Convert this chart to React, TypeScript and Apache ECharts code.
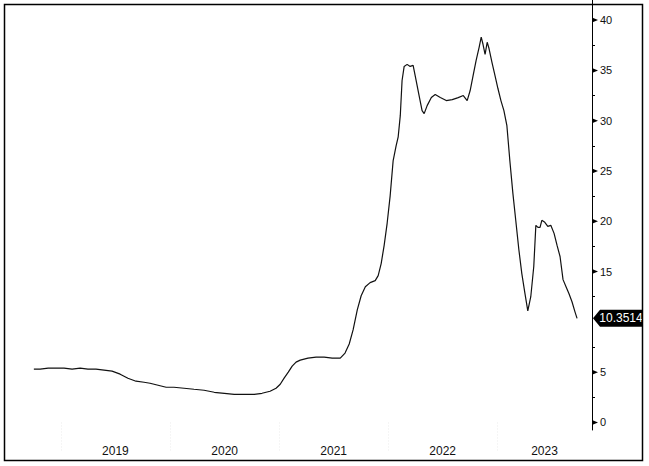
import React, { useEffect, useRef } from "react";
import * as echarts from "echarts";

const dates = [
  "2018-10-02", "2018-10-23", "2018-11-19", "2018-12-15", "2019-01-11", "2019-02-07",
  "2019-03-06", "2019-04-01", "2019-04-28", "2019-05-25", "2019-06-21", "2019-07-18",
  "2019-08-13", "2019-09-09", "2019-10-06", "2019-10-26", "2019-11-22", "2019-12-19",
  "2020-01-14", "2020-02-17", "2020-03-21", "2020-04-24", "2020-05-28", "2020-07-01",
  "2020-08-03", "2020-09-05", "2020-10-09", "2020-11-04", "2020-12-01", "2020-12-21",
  "2021-01-04", "2021-01-17", "2021-01-31", "2021-02-13", "2021-02-26", "2021-03-12",
  "2021-04-07", "2021-05-04", "2021-05-31", "2021-06-27", "2021-07-24", "2021-08-09",
  "2021-08-23", "2021-09-05", "2021-09-19", "2021-10-02", "2021-10-16", "2021-11-01",
  "2021-11-18", "2021-11-28", "2021-12-08", "2021-12-18", "2021-12-28", "2022-01-07",
  "2022-01-17", "2022-01-27", "2022-02-03", "2022-02-10", "2022-02-16", "2022-02-23",
  "2022-03-05", "2022-03-15", "2022-03-25", "2022-04-04", "2022-04-14", "2022-04-24",
  "2022-05-01", "2022-05-11", "2022-05-25", "2022-06-07", "2022-06-24", "2022-07-14",
  "2022-08-03", "2022-08-23", "2022-09-09", "2022-09-22", "2022-10-02", "2022-10-12",
  "2022-10-22", "2022-11-01", "2022-11-08", "2022-11-14", "2022-11-21", "2022-11-28",
  "2022-12-04", "2022-12-14", "2022-12-24", "2023-01-03", "2023-01-13", "2023-01-23",
  "2023-02-02", "2023-02-12", "2023-02-22", "2023-03-04", "2023-03-14", "2023-03-24",
  "2023-04-03", "2023-04-13", "2023-04-23", "2023-05-03", "2023-05-10", "2023-05-17",
  "2023-05-24", "2023-05-30", "2023-06-09", "2023-06-19", "2023-06-29", "2023-07-10",
  "2023-07-20", "2023-07-30", "2023-08-09", "2023-08-19", "2023-08-29", "2023-09-08",
  "2023-09-18", "2023-09-25",
];

const values = [
  5.3, 5.3, 5.4, 5.4, 5.4, 5.3,
  5.4, 5.3, 5.3, 5.2, 5.1, 4.8,
  4.4, 4.1, 4.0, 3.9, 3.7, 3.5,
  3.5, 3.4, 3.3, 3.2, 3.0, 2.9,
  2.8, 2.8, 2.8, 2.9, 3.1, 3.4,
  3.8, 4.4, 5.0, 5.6, 6.0, 6.2,
  6.4, 6.5, 6.5, 6.4, 6.4, 6.9,
  7.8, 9.2, 11.2, 12.6, 13.5, 13.9,
  14.1, 14.6, 15.8, 17.6, 19.8, 22.5,
  26.0, 27.5, 28.4, 30.5, 34.0, 35.4,
  35.6, 35.4, 35.5, 34.0, 32.5, 31.0,
  30.7, 31.5, 32.3, 32.6, 32.3, 32.0,
  32.1, 32.3, 32.5, 32.0, 33.0, 34.5,
  36.0, 37.3, 38.3, 37.6, 36.6, 37.8,
  37.2, 35.8, 34.5, 33.2, 32.0, 31.0,
  29.5, 26.0, 22.8, 20.0, 17.2, 14.8,
  12.9, 11.1, 12.5, 15.5, 19.6, 19.4,
  19.4, 20.1, 19.9, 19.5, 19.6, 18.8,
  17.6, 16.5, 14.2, 13.5, 12.8, 12.0,
  11.0, 10.3514,
];

const yearStarts = ["2019-01-01", "2020-01-01", "2021-01-01", "2022-01-01", "2023-01-01"];
const yearLabelDates = ["2019-07-02", "2020-07-02", "2021-07-02", "2022-07-02", "2023-06-08"];
const yTickLabels = [0, 5, 10, 15, 20, 25, 30, 35, 40];
const yMinorTicks = [2.5, 7.5, 12.5, 17.5, 22.5, 27.5, 32.5, 37.5];
const xRange = ["2018-06-24", "2023-11-14"];
const yRange = [-0.75, 42];

const toTs = (s: string) => {
  const [y, m, d] = s.split("-").map(Number);
  return new Date(y, m - 1, d).getTime();
};

export default function App() {
  const ref = useRef<HTMLDivElement>(null);
  useEffect(() => {
    if (!ref.current) return;
    const chart = echarts.init(ref.current, undefined, { renderer: "svg" });
    const xMin = toTs(xRange[0]);
    const xMax = toTs(xRange[1]);
    const lineData = dates.map((d, i) => [toTs(d), values[i]]);
    const lastValue = values[values.length - 1];
    const font = "'Liberation Sans', Arial, sans-serif";

    chart.setOption({
      animation: false,
      backgroundColor: "#ffffff",
      grid: { left: 4, right: 57, top: 0, bottom: 36, containLabel: false },
      xAxis: {
        type: "value",
        min: xMin,
        max: xMax,
        axisLine: { show: false },
        axisTick: {
          show: true,
          customValues: yearStarts.map(toTs),
          length: 28,
          lineStyle: { color: "#ececec", type: [1, 2], width: 1 },
        },
        axisLabel: {
          customValues: yearLabelDates.map(toTs),
          formatter: (v: number) => String(new Date(v).getFullYear()),
          color: "#111",
          fontSize: 12,
          fontFamily: font,
          margin: 15,
          showMinLabel: true,
          showMaxLabel: true,
          hideOverlap: false,
        },
        splitLine: { show: false },
      },
      yAxis: {
        type: "value",
        position: "right",
        min: yRange[0],
        max: yRange[1],
        axisLine: { show: true, lineStyle: { color: "#000", width: 1 } },
        axisTick: {
          show: true,
          customValues: yMinorTicks,
          length: 3,
          inside: false,
          lineStyle: { color: "#000", width: 1 },
        },
        axisLabel: {
          customValues: yTickLabels.filter((v) => v !== 10),
          color: "#111",
          fontSize: 11,
          fontFamily: font,
          margin: 8,
        },
        splitLine: { show: false },
      },
      series: [
        {
          type: "line",
          data: lineData,
          showSymbol: false,
          lineStyle: { color: "#111", width: 1.2 },
          silent: true,
          z: 3,
        },
        {
          type: "scatter",
          data: yTickLabels.filter((v) => v !== 10).map((v) => [xMax, v]),
          symbol: "path://M0,0 L10,5 L0,10 Z",
          symbolSize: [6, 5],
          symbolOffset: [3, 0],
          itemStyle: { color: "#000", opacity: 1 },
          clip: false,
          silent: true,
          z: 4,
        },
        {
          type: "scatter",
          data: [[xMax, lastValue]],
          symbol: "path://M0,8 L7,0 L50,0 L50,16 L7,16 Z",
          symbolSize: [50, 17],
          symbolOffset: [26, 0],
          itemStyle: { color: "#000", opacity: 1 },
          clip: false,
          silent: true,
          z: 5,
          label: {
            show: true,
            position: "inside",
            offset: [3, 0],
            formatter: () => lastValue.toFixed(4),
            color: "#fff",
            fontSize: 12,
            fontFamily: font,
          },
        },
      ],
      graphic: [
        {
          type: "rect",
          shape: { x: 4.5, y: 4.5, width: 638, height: 456 },
          style: { fill: "none", stroke: "#000", lineWidth: 1.5 },
          silent: true,
          z: 10,
        },
      ],
    });
    return () => chart.dispose();
  }, []);

  return (
    <div
      ref={ref}
      style={{ position: "fixed", left: 0, top: 0, width: 649, height: 466, background: "#fff" }}
    />
  );
}
